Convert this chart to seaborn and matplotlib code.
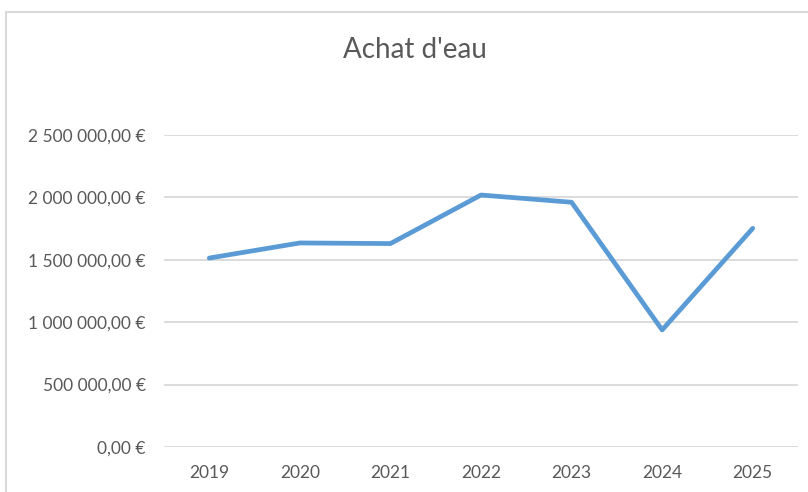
import matplotlib
matplotlib.use("Agg")
import matplotlib.pyplot as plt
from matplotlib.ticker import FuncFormatter
import seaborn as sns
import pandas as pd

years = [2019, 2020, 2021, 2022, 2023, 2024, 2025]
achats = [1514000, 1635000, 1630000, 2019000, 1961000, 938000, 1752000]

df = pd.DataFrame({"annee": years, "achat": achats})

sns.set_theme(style="white")
plt.rcParams['font.family'] = ['Lato', 'DejaVu Sans']

text_color = "#595959"
grid_color = "#d9d9d9"


def euro(v, pos):
    s = f"{v:,.2f}".replace(",", " ").replace(".", ",")
    return s + " €"


fig = plt.figure(figsize=(8.08, 4.92), dpi=100)
ax = fig.add_axes([164 / 808, 1 - 447 / 492, (798 - 164) / 808, (447 - 135) / 492])

# chart border (only left and top visible in the screenshot)
fig.add_artist(plt.Line2D([6 / 808, 6 / 808], [0, 1 - 12 / 492], transform=fig.transFigure,
                          color=grid_color, lw=1.5))
fig.add_artist(plt.Line2D([6 / 808, 1], [1 - 12 / 492, 1 - 12 / 492], transform=fig.transFigure,
                          color=grid_color, lw=1.5))

sns.lineplot(data=df, x="annee", y="achat", ax=ax, color="#5b9bd5", linewidth=3.4)

ax.set_xlim(years[0] - 0.5, years[-1] + 0.5)
ax.set_ylim(0, 2500000)
ax.set_yticks(range(0, 2500001, 500000))
ax.set_xticks(years)
ax.yaxis.set_major_formatter(FuncFormatter(euro))
ax.grid(axis="y", color=grid_color, linewidth=1.3)
ax.set_axisbelow(True)
for s in ax.spines.values():
    s.set_visible(False)
ax.tick_params(axis="both", length=0, labelsize=12.5, labelcolor=text_color)
ax.tick_params(axis="y", pad=13)
ax.tick_params(axis="x", pad=13)
ax.set_xlabel("")
ax.set_ylabel("")

fig.text(415 / 808, 1 - 50 / 492, "Achat d'eau", ha="center", va="center",
         fontsize=20, color=text_color)

fig.savefig("out.png", dpi=100)
